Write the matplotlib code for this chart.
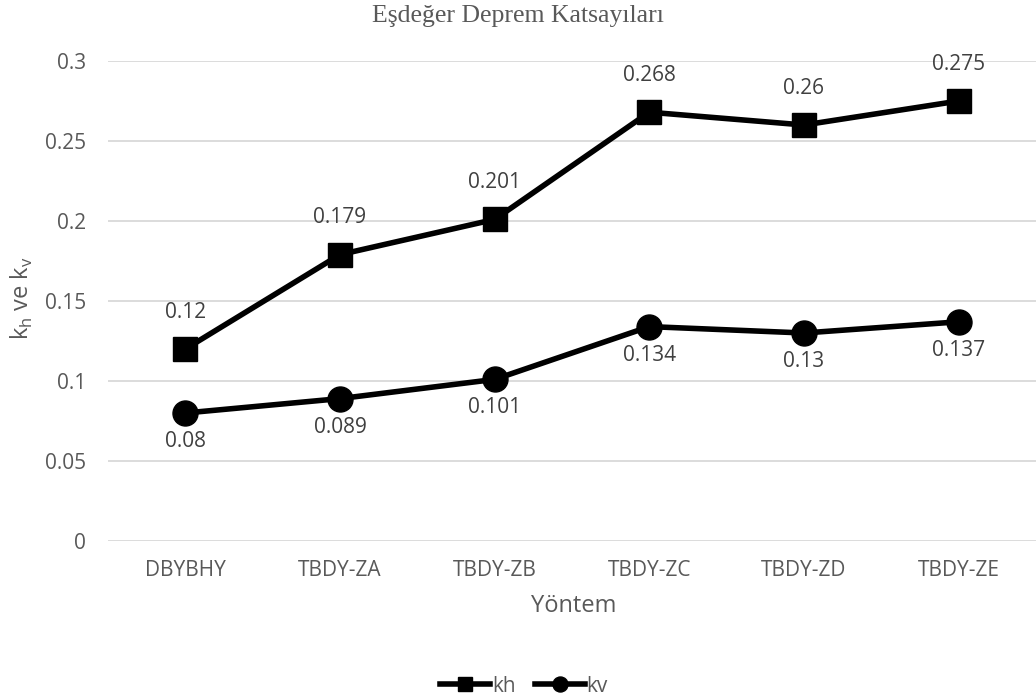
import matplotlib
matplotlib.use("Agg")
from matplotlib import pyplot as plt

methods = ["DBYBHY", "TBDY-ZA", "TBDY-ZB", "TBDY-ZC", "TBDY-ZD", "TBDY-ZE"]
kh = [0.12, 0.179, 0.201, 0.268, 0.26, 0.275]
kv = [0.08, 0.089, 0.101, 0.134, 0.13, 0.137]
y_ticks = [0, 0.05, 0.1, 0.15, 0.2, 0.25, 0.3]

plt.rcParams["font.family"] = ["Open Sans", "DejaVu Sans"]
plt.rcParams["mathtext.fontset"] = "custom"
plt.rcParams["mathtext.rm"] = "Open Sans"

text_grey = "#595959"
label_grey = "#404040"
grid_grey = "#d9d9d9"

fig = plt.figure(figsize=(10.36, 7.0), dpi=100)
ax = fig.add_axes([108 / 1036, 1 - 541 / 700, 1 - 108 / 1036, 480 / 700])

x = list(range(len(methods)))
ax.plot(x, kh, color="black", linewidth=4, marker="s", markersize=17,
        label="kh", zorder=3)
ax.plot(x, kv, color="black", linewidth=4, marker="o", markersize=18,
        label="kv", zorder=3)

# value labels: kh above the line, kv below
for xi, v in zip(x, kh):
    ax.annotate(f"{v:g}", (xi, v), xytext=(0, 26.5), textcoords="offset points",
                ha="center", va="center", fontsize=15, color=label_grey)
for xi, v in zip(x, kv):
    ax.annotate(f"{v:g}", (xi, v), xytext=(0, -20.5), textcoords="offset points",
                ha="center", va="center", fontsize=15, color=label_grey)

ax.set_xlim(-0.5, len(methods) - 0.5)
ax.set_ylim(0, 0.3)
ax.set_yticks(y_ticks)
ax.set_yticklabels([f"{t:g}" for t in y_ticks])
ax.set_xticks(x)
ax.set_xticklabels(methods)
ax.tick_params(axis="both", length=0, labelsize=15, labelcolor=text_grey)
ax.tick_params(axis="x", pad=14)
ax.tick_params(axis="y", pad=16)
ax.grid(axis="y", color=grid_grey, linewidth=1.3)
ax.set_axisbelow(True)
for side in ["top", "right", "left", "bottom"]:
    ax.spines[side].set_visible(False)

fig.text(0.5, 1 - 16 / 700, "Eşdeğer Deprem Katsayıları", ha="center",
         va="center", fontsize=18.5, color=text_grey, family="Liberation Serif")
fig.text(574 / 1036, 1 - 606 / 700, "Yöntem", ha="center", va="center",
         fontsize=17, color=text_grey)
fig.text(22 / 1036, 1 - 298 / 700, r"k$_\mathregular{h}$ ve k$_\mathregular{v}$",
         ha="center", va="center", rotation=90, fontsize=17, color=text_grey)

fig.legend(loc="center", bbox_to_anchor=(524 / 1036, 1 - 686 / 700),
           ncol=2, frameon=False, fontsize=15, labelcolor=text_grey,
           handlelength=2.4, handletextpad=0.1, columnspacing=0.9,
           markerscale=0.6)

fig.savefig("out.png", dpi=100)
